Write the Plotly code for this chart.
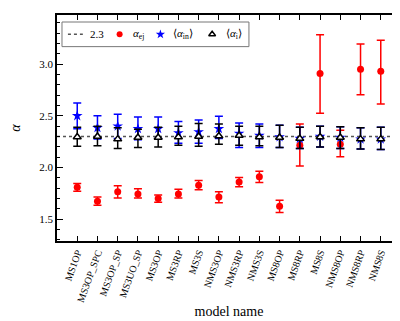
import plotly.graph_objects as go

# model names on the x axis
models = ['MS1OP', 'MS3OP_SPC', 'MS3OP_SP', 'MS3UO_SP', 'MS3OP', 'MS3RP', 'MS3S',
          'NMS3OP', 'NMS3RP', 'NMS3S', 'MS8OP', 'MS8RP', 'MS8S', 'NMS8OP', 'NMS8RP', 'NMS8S']
ref_value = 2.3

# alpha_ej (red)
alpha_ej = [1.81, 1.675, 1.765, 1.745, 1.70, 1.745, 1.83, 1.715, 1.86, 1.91, 1.625, 2.215, 2.91, 2.225, 2.95, 2.93]
ej_up = [0.035, 0.04, 0.06, 0.05, 0.035, 0.045, 0.045, 0.05, 0.045, 0.055, 0.06, 0.205, 0.375, 0.135, 0.245, 0.30]
ej_dn = [0.04, 0.04, 0.06, 0.04, 0.035, 0.04, 0.045, 0.055, 0.045, 0.055, 0.06, 0.20, 0.385, 0.12, 0.245, 0.315]

# <alpha_in> (blue)
alpha_in = [2.50, 2.385, 2.40, 2.375, 2.375, 2.335, 2.345, 2.375, 2.33, 2.31, 2.295, 2.28, 2.30, 2.29, 2.275, 2.275]
in_up = [0.125, 0.115, 0.115, 0.115, 0.115, 0.11, 0.115, 0.12, 0.10, 0.11, 0.115, 0.11, 0.10, 0.105, 0.11, 0.115]
in_dn = [0.125, 0.11, 0.12, 0.105, 0.095, 0.10, 0.11, 0.095, 0.135, 0.115, 0.10, 0.095, 0.10, 0.105, 0.095, 0.10]

# <alpha_i> (black)
alpha_i = [2.295, 2.30, 2.275, 2.29, 2.29, 2.295, 2.30, 2.305, 2.31, 2.295, 2.29, 2.28, 2.295, 2.29, 2.275, 2.275]
i_up = [0.095, 0.10, 0.11, 0.08, 0.10, 0.105, 0.125, 0.115, 0.09, 0.105, 0.12, 0.11, 0.105, 0.105, 0.11, 0.115]
i_dn = [0.09, 0.09, 0.09, 0.095, 0.09, 0.08, 0.095, 0.08, 0.095, 0.085, 0.095, 0.095, 0.095, 0.105, 0.095, 0.10]

# legend labels
leg_labels = ['2.3', '<i>α</i><sub>ej</sub>', '⟨<i>α</i><sub>in</sub>⟩', '⟨<i>α</i><sub>i</sub>⟩']

xpos = list(range(len(models)))
serif = 'Liberation Serif, Times New Roman, serif'

fig = go.Figure()

# reference line
fig.add_trace(go.Scatter(x=[-1, 16], y=[ref_value, ref_value], mode='lines',
                         line=dict(color='#555555', width=1.6, dash='dot')))

def err(up, dn, color):
    return dict(type='data', symmetric=False, array=up, arrayminus=dn,
                color=color, thickness=1.5, width=4)

red_marker = dict(color='red', size=7, symbol='circle')
blue_marker = dict(color='blue', size=8, symbol='star')
tri_marker = dict(color='white', size=7, symbol='triangle-up', line=dict(color='black', width=1.5))

fig.add_trace(go.Scatter(x=xpos, y=alpha_ej, mode='markers', marker=red_marker,
                         error_y=err(ej_up, ej_dn, 'red')))
fig.add_trace(go.Scatter(x=xpos, y=alpha_in, mode='markers', marker=blue_marker,
                         error_y=err(in_up, in_dn, 'blue')))
fig.add_trace(go.Scatter(x=xpos, y=alpha_i, mode='markers', marker=tri_marker,
                         error_y=err(i_up, i_dn, 'black')))

# hand made legend box (plotly's own legend is too wide for this spot)
ly = 0.9145
fig.add_shape(type='rect', xref='paper', yref='paper', x0=0.0145, x1=0.558, y0=0.860, y1=0.969,
              line=dict(color='#777777', width=1), fillcolor='white', layer='below')
fig.add_trace(go.Scatter(x=[0.0318, 0.0751], y=[ly, ly], mode='lines', xaxis='x2', yaxis='y2',
                         line=dict(color='#555555', width=1.6, dash='dot')))
fig.add_trace(go.Scatter(x=[0.182], y=[ly], mode='markers', xaxis='x2', yaxis='y2',
                         marker=dict(color='red', size=6, symbol='circle')))
fig.add_trace(go.Scatter(x=[0.3006], y=[ly], mode='markers', xaxis='x2', yaxis='y2',
                         marker=dict(color='blue', size=7, symbol='star')))
fig.add_trace(go.Scatter(x=[0.451], y=[ly], mode='markers', xaxis='x2', yaxis='y2',
                         marker=dict(color='white', size=6, symbol='triangle-up',
                                     line=dict(color='black', width=1.5))))
for xt, txt in zip([0.0896, 0.214, 0.332, 0.4855], leg_labels):
    fig.add_annotation(x=xt, y=ly, xref='paper', yref='paper', text=txt, showarrow=False,
                       xanchor='left', yanchor='middle', font=dict(size=11))

fig.update_layout(
    width=400, height=321,
    margin=dict(l=47, r=7, t=5, b=88),
    plot_bgcolor='white', paper_bgcolor='white',
    font=dict(family=serif, size=11, color='black'),
    showlegend=False,
    xaxis=dict(
        range=[-1, 16],
        tickmode='array', tickvals=xpos, ticktext=models, tickangle=-70,
        ticks='inside', ticklen=5, tickwidth=1, tickcolor='black',
        showline=True, linecolor='black', linewidth=1.5, mirror='allticks',
        showgrid=False, zeroline=False,
        title=dict(text='model name', font=dict(size=14), standoff=3),
        tickfont=dict(size=10),
    ),
    yaxis=dict(
        range=[1.29, 3.475],
        tickmode='array', tickvals=[1.5, 2.0, 2.5, 3.0], ticktext=['1.5', '2.0', '2.5', '3.0'],
        ticks='inside', ticklen=6, tickwidth=1, tickcolor='black',
        minor=dict(tickmode='linear', dtick=0.1, tick0=1.0, ticks='inside', ticklen=3,
                   tickcolor='black', showgrid=False),
        showline=True, linecolor='black', linewidth=1.5, mirror='allticks',
        showgrid=False, zeroline=False,
        title=dict(text='<i>α</i>', font=dict(size=14), standoff=16),
        tickfont=dict(size=11),
    ),
    xaxis2=dict(overlaying='x', range=[0, 1], visible=False, fixedrange=True),
    yaxis2=dict(overlaying='y', range=[0, 1], visible=False, fixedrange=True),
)

fig.write_html("out.html")
